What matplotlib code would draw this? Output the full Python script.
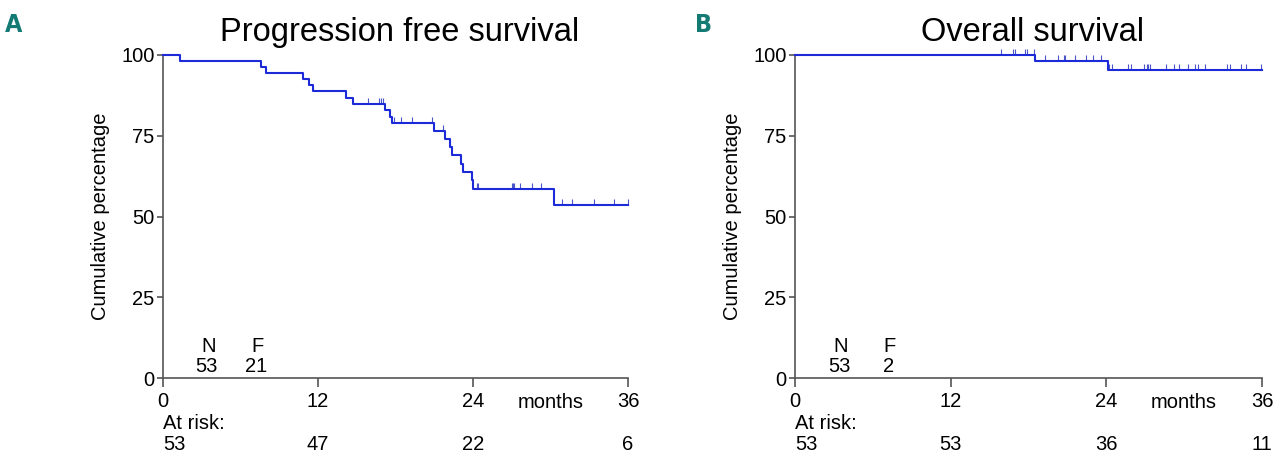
import numpy as np
import matplotlib
matplotlib.use('Agg')
import matplotlib.pyplot as plt

plt.rcParams['font.family'] = ['Liberation Sans', 'DejaVu Sans']

# Dados (meses, % cumulativa)
pfs_tempo = [0, 1.3, 7.6, 8.0, 10.8, 11.3, 11.6, 14.2, 14.7, 17.2, 17.6, 17.7,
             21.0, 21.8, 22.2, 22.4, 23.1, 23.2, 23.9, 24.0, 30.3, 36.0]
pfs_surv = [100, 98.1, 96.2, 94.3, 92.5, 90.6, 88.7, 86.8, 84.9, 83.0, 80.9, 78.8,
            76.5, 74.1, 71.6, 69.0, 66.4, 63.9, 61.2, 58.5, 53.6, 53.6]
pfs_censura = [15.9, 16.7, 16.9, 17.0, 17.9, 18.4, 19.3, 20.8, 21.7, 22.2, 24.3, 24.4,
               27.0, 27.1, 27.2, 27.6, 28.6, 29.3, 30.9, 31.7, 33.4, 34.9, 36.0]

os_tempo = [0, 18.5, 24.15, 36.0]
os_surv = [100, 98.1, 95.4, 95.4]
os_censura = [15.9, 16.8, 16.96, 17.7, 17.9, 18.4,
              19.3, 20.3, 20.7, 20.8, 21.6, 22.4, 23.0, 23.6,
              24.2, 24.4, 25.7, 25.9, 26.9, 27.1, 27.2, 27.4, 28.6, 29.2, 29.6,
              30.3, 30.8, 31.1, 31.6, 33.3, 33.5, 34.4, 34.8, 35.9]

ticks_x = [0, 12, 24, 36]
pfs_risco = [53, 47, 22, 6]
os_risco = [53, 53, 36, 11]
pfs_nf = (53, 21)
os_nf = (53, 2)

cor_linha = '#1c2ad8'
cor_eixo = '#555555'
fs = 14.5


def valor_em(tempos, surv, t):
    i = np.searchsorted(tempos, t, side='right') - 1
    return surv[max(i, 0)]


def painel(ax, titulo, letra, tempos, surv, censura, risco, nf, x_letra):
    ax.step(tempos, surv, where='post', color=cor_linha, lw=1.5, clip_on=False, zorder=3)
    cy = [valor_em(tempos, surv, c) for c in censura]
    ax.vlines(censura, cy, np.array(cy) + 1.9, color='#4a55c8', lw=0.8, clip_on=False)

    ax.set_xlim(0, 36)
    ax.set_ylim(0, 100)
    ax.set_xticks(ticks_x)
    ax.set_yticks([0, 25, 50, 75, 100])
    for s in ['top', 'right']:
        ax.spines[s].set_visible(False)
    for s in ['left', 'bottom']:
        ax.spines[s].set_color(cor_eixo)
        ax.spines[s].set_linewidth(1.2)
    ax.tick_params(axis='x', direction='out', length=6.5, width=1.2, color=cor_eixo,
                   labelsize=fs, pad=3.5)
    ax.tick_params(axis='y', direction='out', length=4.5, width=1.2, color=cor_eixo,
                   labelsize=fs, pad=1.5)
    ax.set_ylabel('Cumulative percentage', fontsize=fs, labelpad=8)

    ax.text(30, -4.6, 'months', fontsize=fs, ha='center', va='top')
    ax.text(0, -14.2, 'At risk:', fontsize=fs, ha='left', va='center')
    for i, (t, n) in enumerate(zip(ticks_x, risco)):
        ax.text(t, -20.6, str(n), fontsize=fs, ha='left' if i == 0 else 'center',
                va='center')

    ax.text(3.5, 9.7, 'N', fontsize=fs, ha='center', va='center')
    ax.text(3.4, 3.7, str(nf[0]), fontsize=fs, ha='center', va='center')
    ax.text(7.3, 9.7, 'F', fontsize=fs, ha='center', va='center')
    ax.text(7.2, 3.7, str(nf[1]), fontsize=fs, ha='center', va='center')

    ax.text(18.3, 107, titulo, fontsize=23.5, ha='center', va='center')
    ax.figure.text(x_letra, 0.945, letra, fontsize=18, color='#137a74',
                   fontweight='bold', fontstretch='condensed', ha='center', va='center',
                   family=['DejaVu Sans'])


fig = plt.figure(figsize=(12.8, 4.62), dpi=100)
ax1 = fig.add_axes([163 / 1280, 1 - 378 / 462, 465 / 1280, 323 / 462])
ax2 = fig.add_axes([795 / 1280, 1 - 378 / 462, 467 / 1280, 323 / 462])

painel(ax1, 'Progression free survival', 'A', pfs_tempo, pfs_surv, pfs_censura,
       pfs_risco, pfs_nf, 14 / 1280)
painel(ax2, 'Overall survival', 'B', os_tempo, os_surv, os_censura,
       os_risco, os_nf, 704 / 1280)

fig.savefig('out.png', dpi=100)
